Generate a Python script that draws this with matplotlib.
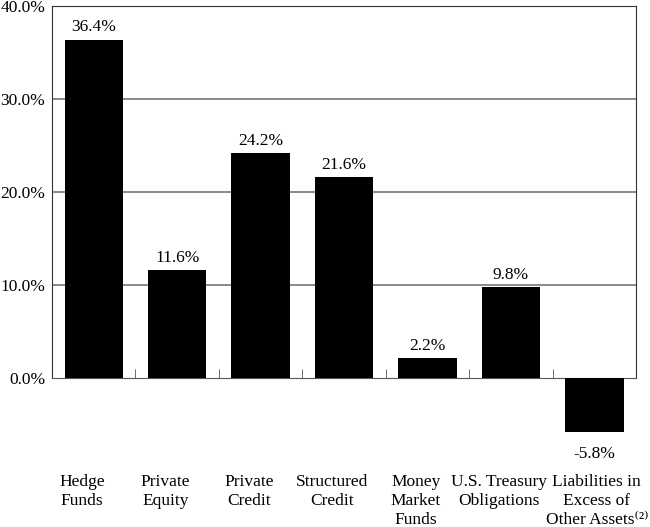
import numpy as np
import matplotlib
matplotlib.use("Agg")
import matplotlib.pyplot as plt
from matplotlib.ticker import FixedLocator

plt.rcParams['font.family'] = ['Liberation Serif', 'DejaVu Serif']

categories = ['Hedge\nFunds', 'Private\nEquity', 'Private\nCredit', 'Structured\nCredit',
              'Money\nMarket\nFunds', 'U.S. Treasury\nObligations',
              'Liabilities in\nExcess of\nOther Assets\u207d\u00b2\u207e']
values = [36.4, 11.6, 24.2, 21.6, 2.2, 9.8, -5.8]
yticks = [0, 10, 20, 30, 40]

fs = 12.5

fig = plt.figure(figsize=(6.5, 5.27), dpi=100)
# 40% line near the top edge, 0% line at about y=378 px
ax = fig.add_axes([0.08, 0.1408, 0.8985, 0.8478])

x = np.arange(len(categories))
ax.bar(x, values, width=0.7, color='black', zorder=3)

for xi, v in zip(x, values):
    if v >= 0:
        ax.annotate(f'{v:.1f}%', (xi, v), xytext=(0, 3), textcoords='offset points',
                    ha='center', va='bottom', fontsize=fs)
    else:
        ax.annotate(f'{v:.1f}%', (xi, v), xytext=(0, -10), textcoords='offset points',
                    ha='center', va='top', fontsize=fs)

# category labels sit a bit left of the bars, last one nudged right
shifts = [-0.14] * (len(categories) - 1) + [0.03]
for xi, lab, dx in zip(x, categories, shifts):
    ax.text(xi + dx, -10.3, lab, ha='center', va='top', multialignment='center',
            fontsize=fs, linespacing=1.25)

ax.set_xlim(-0.5, len(categories) - 0.5)
ax.set_ylim(-8, 40)
ax.set_yticks(yticks)
ax.set_yticklabels([f'{t:.1f}%' for t in yticks], fontsize=fs)
ax.tick_params(axis='y', length=0, pad=5)

for t in yticks[1:-1]:
    ax.axhline(t, color='#808080', lw=1.3, zorder=1)

ax.spines['bottom'].set_position(('data', 0))
ax.spines['bottom'].set_color('#555555')
for s in ['left', 'right']:
    ax.spines[s].set_bounds(0, 40)
    ax.spines[s].set_color('#333333')
ax.spines['top'].set_color('#333333')

ax.set_xticks([])
ax.xaxis.set_minor_locator(FixedLocator(x[:-1] + 0.5))
ax.tick_params(axis='x', which='minor', direction='in', length=6.5, color='#555555')

plt.savefig('out.png', dpi=100)
plt.close()
